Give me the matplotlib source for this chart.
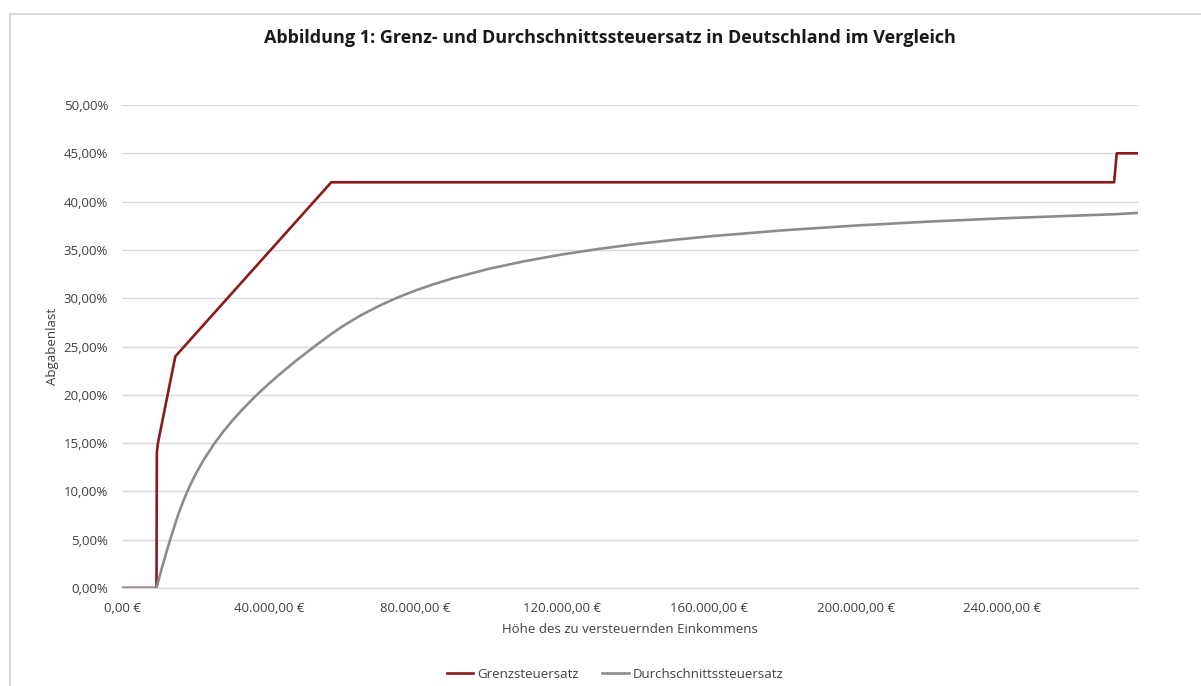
import matplotlib.pyplot as plt
from matplotlib.patches import Rectangle
from matplotlib.ticker import FuncFormatter

# Grenzsteuersatz: Knickpunkte (Einkommen in €, Satz in %)
grenz_x = [0, 9408, 9500, 9800, 14532, 57051, 270500, 271200, 277000]
grenz_y = [0.0, 0.0, 14.0, 15.0, 23.97, 42.0, 42.0, 45.0, 45.0]

avg_x = [0, 9408, 10000, 11000, 12000, 13000, 14532, 15500, 17000, 18500,
         20000, 22000, 25000, 27500, 30000, 32500, 35000, 37500, 40000,
         42500, 45000, 47500, 50000, 53500, 57051, 60000, 65000, 70000,
         75000, 80000, 85000, 90000, 100000, 110000, 120000, 130000, 140000,
         150000, 160000, 180000, 200000, 220000, 240000, 250000, 270500, 277000]
avg_y = [0.0, 0.0, 0.86, 2.25, 3.57, 4.83, 6.69, 7.79, 9.28, 10.58,
         11.73, 13.10, 14.86, 16.14, 17.29, 18.35, 19.33, 20.26, 21.13,
         21.97, 22.76, 23.54, 24.28, 25.30, 26.29, 27.06, 28.21, 29.19,
         30.05, 30.80, 31.45, 32.04, 33.04, 33.85, 34.53, 35.10, 35.60,
         36.02, 36.40, 37.02, 37.52, 37.93, 38.27, 38.41, 38.69, 38.83]

x_ticks = [0, 40000, 80000, 120000, 160000, 200000, 240000]
y_ticks = [0, 5, 10, 15, 20, 25, 30, 35, 40, 45, 50]

plt.rcParams['font.family'] = ['Open Sans', 'DejaVu Sans']

fig = plt.figure(figsize=(12.01, 6.86), dpi=100)
fig.patches.append(Rectangle((10 / 1201, -0.1), 1.2, 1.1 - 14 / 686,
                             transform=fig.transFigure, fill=False,
                             edgecolor='#d9d9d9', linewidth=1.5))

ax = fig.add_axes([122 / 1201, 1 - 588 / 686, (1138 - 122) / 1201, (588 - 105) / 686])

ax.plot(grenz_x, grenz_y, color='#8b1a1a', linewidth=1.9, label='Grenzsteuersatz')
ax.plot(avg_x, avg_y, color='#8c8c8c', linewidth=1.9, label='Durchschnittssteuersatz')

ax.set_xlim(0, 277000)
ax.set_ylim(0, 50)
ax.set_xticks(x_ticks)
ax.set_yticks(y_ticks)

def euro(v, pos):
    s = f"{v:,.2f}".replace(",", "X").replace(".", ",").replace("X", ".")
    return s + " €"

ax.xaxis.set_major_formatter(FuncFormatter(euro))
ax.yaxis.set_major_formatter(FuncFormatter(lambda v, p: f"{v:.2f}".replace(".", ",") + "%"))

ax.grid(axis='y', color='#d9d9d9', linewidth=1)
ax.set_axisbelow(True)
for s in ['top', 'right', 'left']:
    ax.spines[s].set_visible(False)
ax.spines['bottom'].set_color('#d9d9d9')
ax.tick_params(length=0, labelsize=9.5, colors='#404040')
ax.tick_params(axis='x', pad=10)
ax.tick_params(axis='y', pad=10)

ax.set_ylabel('Abgabenlast', fontsize=9.5, color='#404040', labelpad=3)
ax.set_xlabel('Höhe des zu versteuernden Einkommens', fontsize=9.5, color='#404040', labelpad=6)

fig.text(0.508, 1 - 38 / 686, 'Abbildung 1: Grenz- und Durchschnittssteuersatz in Deutschland im Vergleich',
         ha='center', va='center', fontsize=13, fontweight='bold', color='#1a1a1a')

fig.legend(loc='center', bbox_to_anchor=(0.512, 1 - 674 / 686), ncol=2, frameon=False,
           fontsize=9.5, handlelength=2.0, handletextpad=0.3, columnspacing=1.8,
           labelcolor='#404040')

fig.savefig('out.png', dpi=100)
